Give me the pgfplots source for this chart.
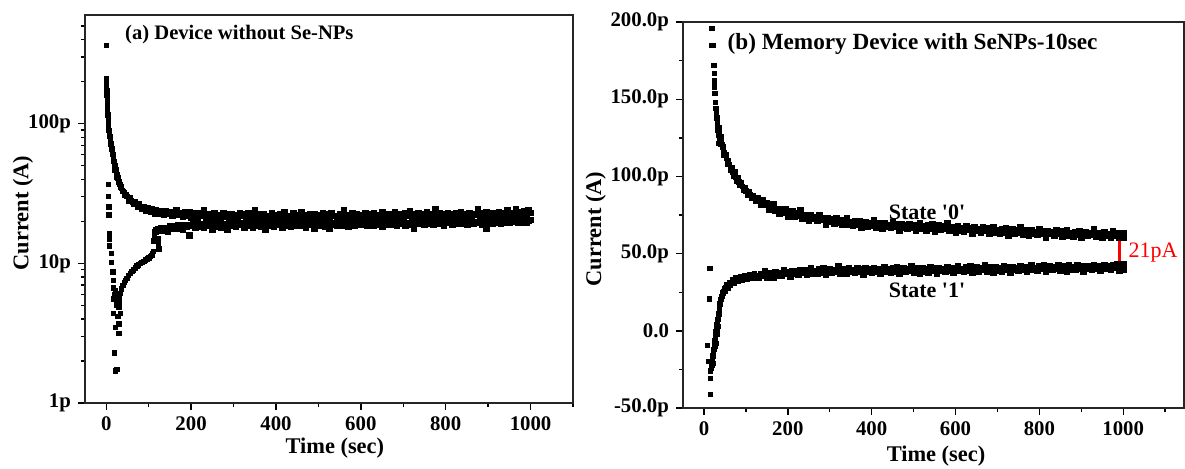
\documentclass[border=0pt]{standalone}
\usepackage{pgfplots}
\usepackage{pgfplotstable}
\pgfplotsset{compat=1.18}
\usepackage{fontspec}
\setmainfont{Liberation Serif}
\newfontfamily\rawserif{Liberation Serif}[Ligatures=TeXOff]

\pgfplotstableread{
t hi lo
130 23.6 17.2
135 22.5 18.0
140 23.9 17.6
145 22.8 17.0
150 23.4 18.4
155 22.0 17.9
160 23.0 18.6
165 24.1 17.7
170 22.3 18.8
175 22.9 18.2
180 21.8 17.5
185 23.3 18.9
190 22.2 18.3
195 23.5 15.9
200 21.2 18.7
205 22.5 19.1
210 23.0 18.0
215 21.7 19.3
220 22.8 18.5
225 22.0 19.0
230 24.2 18.2
235 21.4 19.4
240 22.1 18.6
245 22.7 19.8
250 21.0 17.6
255 22.9 19.0
260 21.6 18.4
265 22.2 19.5
270 21.3 18.1
275 23.1 19.2
280 21.8 18.8
285 22.4 17.4
290 20.9 19.6
295 22.6 18.7
300 21.5 19.1
305 22.3 18.3
310 21.1 19.7
315 23.0 18.9
320 21.9 19.3
325 22.5 18.0
330 21.2 19.4
335 22.8 18.6
340 21.6 19.9
345 22.1 18.2
350 24.0 19.0
355 21.3 18.7
360 22.4 19.5
365 21.0 18.4
370 22.7 19.2
375 21.5 17.6
380 22.0 19.6
385 21.4 18.8
390 22.9 19.3
395 21.7 18.5
400 22.2 19.8
405 21.1 18.9
410 22.6 19.2
415 21.8 18.1
420 23.2 19.5
425 21.4 18.7
430 22.0 19.4
435 21.6 18.3
440 22.8 19.7
445 21.2 19.0
450 22.3 18.6
455 21.9 19.9
460 23.5 18.8
465 21.3 19.3
470 22.1 18.2
475 21.7 19.6
480 22.5 18.9
485 21.0 19.4
490 22.7 17.8
495 21.5 19.2
500 22.2 18.7
505 21.8 19.8
510 22.9 19.1
515 21.4 18.5
520 22.4 19.6
525 21.6 17.7
530 23.1 19.3
535 21.9 18.9
540 22.0 19.5
545 21.3 18.6
550 22.6 19.9
555 21.7 19.2
560 24.1 18.8
565 21.5 19.6
570 22.3 18.4
575 21.8 19.7
580 22.8 19.1
585 21.2 18.7
590 22.5 20.0
595 21.9 19.3
600 22.2 18.9
605 21.6 19.8
610 23.0 19.2
615 21.4 18.6
620 22.6 19.9
625 22.0 19.4
630 22.9 18.8
635 21.5 20.1
640 22.3 19.0
645 21.8 19.6
650 23.4 18.5
655 21.7 19.9
660 22.4 19.3
665 21.3 18.9
670 22.7 20.2
675 22.1 19.1
680 23.2 19.7
685 21.6 18.6
690 22.5 19.8
695 22.0 19.4
700 21.4 20.0
705 22.8 18.8
710 22.2 19.6
715 23.6 19.1
720 21.7 19.9
725 22.4 17.9
730 21.9 19.5
735 22.9 20.1
740 21.5 19.2
745 22.6 19.8
750 22.1 18.9
755 23.3 20.0
760 21.8 19.4
765 22.5 19.9
770 21.6 19.0
775 24.3 19.7
780 22.2 20.2
785 22.8 19.3
790 21.7 19.8
795 22.4 18.8
800 22.0 20.1
805 23.1 19.5
810 21.9 19.9
815 22.6 19.1
820 21.6 20.3
825 22.9 19.6
830 22.2 19.2
835 23.4 20.0
840 21.8 19.4
845 22.5 20.2
850 22.0 19.0
855 23.0 19.8
860 21.7 20.4
865 22.7 19.3
870 22.3 19.9
875 24.5 19.5
880 22.1 20.2
885 22.8 19.1
890 21.9 20.0
895 23.2 17.9
900 22.4 19.7
905 22.0 20.3
910 23.0 19.4
915 22.5 20.1
920 21.8 19.6
925 23.3 20.4
930 22.2 19.3
935 22.9 20.0
940 22.4 19.8
945 24.0 20.5
950 22.6 19.5
955 23.1 20.2
960 22.3 19.9
965 24.4 20.6
970 22.7 19.6
975 23.4 20.3
980 22.5 19.8
985 23.6 20.5
990 22.8 19.7
995 24.2 20.2
1000 23.0 20.6
}\leftdata

\pgfplotstableread{
t hi lo
130 84.8 34.4
135 81.9 36.6
140 84.5 35.6
145 81.6 38.9
150 82.5 34.8
155 78.7 36.4
160 80.2 37.6
165 82.1 34.7
170 78.0 38.4
175 79.1 36.2
180 76.2 37.6
185 79.0 35.9
190 76.6 39.3
195 78.9 37.0
200 74.1 38.4
205 76.6 35.1
210 77.5 39.0
215 74.4 37.2
220 76.4 38.5
225 74.9 36.6
230 78.0 39.5
235 72.9 37.6
240 74.3 39.2
245 75.2 36.3
250 71.6 38.4
255 75.3 40.6
260 72.5 37.4
265 73.7 38.9
270 71.4 36.9
275 74.8 39.8
280 72.0 38.1
285 73.2 40.4
290 69.1 36.5
295 73.1 39.1
300 70.9 40.2
305 72.1 37.7
310 69.8 39.7
315 72.8 38.6
320 70.5 41.8
325 71.9 37.5
330 68.6 38.9
335 70.6 40.0
340 72.9 36.9
345 69.1 40.6
350 70.5 38.3
355 68.0 39.5
360 71.0 37.7
365 68.9 41.0
370 71.3 38.6
375 66.8 40.0
380 69.4 36.6
385 70.5 40.4
390 67.7 38.6
395 69.8 39.8
400 68.5 37.8
405 71.8 40.8
410 67.0 38.8
415 68.5 40.3
420 69.6 37.4
425 66.1 39.4
430 70.1 41.5
435 67.4 38.3
440 68.7 39.8
445 66.7 37.7
450 70.2 40.6
455 67.5 38.8
460 68.9 41.1
465 65.0 37.1
470 69.1 39.7
475 67.0 40.7
480 68.4 38.2
485 66.1 40.2
490 69.2 39.1
495 66.9 42.2
500 68.4 37.9
505 65.2 39.3
510 67.4 40.4
515 69.7 37.4
520 66.1 41.0
525 67.7 38.7
530 65.2 39.9
535 68.4 38.1
540 66.4 41.5
545 68.9 39.1
550 64.5 40.4
555 67.2 37.1
560 68.3 40.9
565 65.5 39.1
570 67.6 40.3
575 66.3 38.3
580 69.7 41.3
585 64.8 39.3
590 66.3 40.8
595 67.4 37.9
600 64.0 39.9
605 67.9 42.1
610 65.2 38.9
615 66.6 40.3
620 64.5 38.2
625 68.0 41.1
630 65.4 39.3
635 66.7 41.7
640 62.8 37.7
645 67.0 40.3
650 64.9 41.3
655 66.2 38.8
660 64.0 40.8
665 67.1 39.7
670 64.8 42.9
675 66.4 38.6
680 63.1 40.0
685 65.2 41.1
690 67.5 38.0
695 63.9 41.6
700 65.4 39.3
705 62.9 40.5
710 66.1 38.8
715 64.0 42.1
720 66.5 39.7
725 62.1 41.1
730 64.8 37.7
735 65.9 41.5
740 63.0 39.7
745 65.2 41.0
750 63.9 39.0
755 67.2 41.9
760 62.4 39.9
765 63.9 41.5
770 65.0 38.6
775 61.6 40.6
780 65.5 42.7
785 62.9 39.6
790 64.2 41.0
795 62.2 38.9
800 65.8 41.8
805 63.1 40.1
810 64.5 42.4
815 60.7 38.4
820 64.8 41.0
825 62.8 42.1
830 64.1 39.6
835 61.9 41.6
840 65.0 40.5
845 62.8 42.9
850 64.4 39.4
855 61.1 40.6
860 63.3 41.7
865 65.6 38.7
870 62.0 42.3
875 63.6 40.0
880 61.1 41.2
885 64.3 39.5
890 62.3 42.8
895 64.8 40.4
900 60.4 41.7
905 63.2 38.3
910 64.3 42.2
915 61.5 40.4
920 63.6 41.7
925 62.4 39.7
930 65.8 42.6
935 60.9 40.7
940 62.5 42.2
945 63.6 39.3
950 60.2 41.4
955 64.2 42.9
960 61.5 40.3
965 62.9 41.7
970 60.8 39.6
975 64.4 42.5
980 61.7 40.8
985 63.1 43.1
990 60.2 39.1
995 63.4 41.7
1000 61.4 42.7
1000 63.6 40.0
1000 60.3 43.0
}\rightdata

\pgfplotsset{
  mystyle/.style={
    scale only axis,
    axis line style={line width=0.9pt, black!85},
    tick align=outside,
    tick pos=left,
    major tick length=3.5pt,
    minor tick length=2pt,
    every tick/.style={black, line width=0.7pt},
    tick label style={font=\fontsize{10.4}{12}\selectfont\bfseries},
    label style={font=\fontsize{11.2}{13}\selectfont\bfseries},
    xtick={0,200,400,600,800,1000},
    xticklabels={0,200,400,600,800,1000},
    minor xtick={100,300,500,700,900,1100},
    clip=false,
  },
  pts/.style={only marks, mark=square*, mark size=1.1pt, color=black, mark options={line width=0.2pt}},
  band/.style={only marks, mark=square*, mark size=1.4pt, color=black, mark options={line width=0.2pt}},
}

\begin{document}
\begin{tikzpicture}
\path[use as bounding box] (0pt,0pt) rectangle (592.5pt,-234pt);

% ---------------- (a) ----------------
\begin{axis}[mystyle,
  at={(42.5pt,-201.5pt)}, anchor=south west,
  width=244pt, height=194pt,
  ymode=log, xmin=-50, xmax=1100, ymin=1, ymax=600,
  ytick={1,10,100}, yticklabels={1p,10p,100p},
  minor ytick={2,3,4,5,6,7,8,9,20,30,40,50,60,70,80,90,200,300,400,500},
  xlabel={Time (sec)}, ylabel={Current (A)},
  xlabel style={at={(axis description cs:0.512,0)}, anchor=center, yshift=-22.5pt},
  ylabel style={at={(axis description cs:-0.127,0.49)}, anchor=center},
]
% state 0, early decay
\addplot[pts] coordinates {
(0,365) (0,210) (0.5,200) (0.5,188) (1,172) (1.5,160) (2,150) (2,140) (2.5,132) (3,124)
(3.5,116) (4,108) (4.5,101) (5,95) (6,90) (7,85) (8,81) (9,78) (10,75) (11,72) (12,69)
(13,66) (14,63) (15,60.5) (16,58) (17,56) (18,54) (19,52) (20,50) (21,48.5) (22,47)
(23,45.5) (24,44) (25,43) (26,42) (27,41) (28,40) (30,38.5) (32,37) (34,35.5) (36,34.5)
(38,33.5) (40,32.8) (43,32) (46,31) (49,30.2) (52,29.5) (55,29) (58,28.3) (62,27.7)
(66,27.2) (70,26.6) (75,26) (80,25.5) (85,25.1) (90,24.7) (95,24.4) (100,24.1) (105,23.8)
(110,23.6) (115,23.4) (120,23.2) (125,23.0)
(20,46.5) (24,41.5) (28,38) (33,35.8) (37,33) (42,31) (47,30.5) (53,28) (57,29.8)
(63,26.5) (68,28) (73,25.5) (78,26.8) (83,24.4) (88,25.7) (93,23.8) (98,25.2) (103,23.2)
(108,24.6) (113,22.6) (118,24.2) (123,22.4) (128,24)
};
% state 1, early transient and rise
\addplot[pts] coordinates {
(4,36.7) (4,30.3) (5.4,25.5) (5.4,22.3) (7,16.4) (7,15) (7,13.4) (12,11.8) (12,10.2)
(15,8.7) (17,7.6) (17,6.7) (21,6.4) (25,5.9) (17,5.6) (29,5.4) (29,4.9) (17,4.4) (33,4.4)
(29,3.7) (21,3.5) (29,3.15) (19.5,2.29) (25,1.74) (21,1.70) (23,5) (27,4.2) (19,6) (24,5.5)
(30,5.7) (33,6.1) (36,6.6) (39,7.0) (42,7.3) (45,7.6) (48,7.8) (52,8.2) (56,8.5) (60,8.8)
(64,9.0) (68,9.3) (72,9.6) (76,9.8) (80,10.0) (84,10.2) (88,10.4) (92,10.6) (96,10.8)
(100,11.0) (104,11.2) (107,11.4) (109,11.7) (111,12.2)
(112,14.5) (113,16) (114,17) (116,17.5) (118,16.8) (120,17.8) (122,15) (123,14)
(124,12.7) (126,17.2) (128,18)
};
\addplot[band] table[x=t, y=hi] {\leftdata};
\addplot[band] table[x=t, y=lo] {\leftdata};
\node[anchor=west, font=\fontsize{10.3}{12}\selectfont\bfseries] at (rel axis cs:0.068,0.95) {(a) Device without Se-NPs};
\end{axis}

% ---------------- (b) ----------------
\begin{axis}[mystyle,
  at={(341.5pt,-204pt)}, anchor=south west,
  width=250.5pt, height=193pt,
  xmin=-50, xmax=1145, ymin=-50, ymax=200,
  ytick={-50,0,50,100,150,200},
  yticklabels={-50.0p,0.0,50.0p,100.0p,150.0p,200.0p},
  minor ytick={-25,25,75,125,175},
  xlabel={Time (sec)}, ylabel={Current (A)},
  xlabel style={at={(axis description cs:0.505,0)}, anchor=center, yshift=-24pt},
  ylabel style={at={(axis description cs:-0.174,0.464)}, anchor=center},
]
% state 0 early
\addplot[pts] coordinates {
(18,196) (17,185) (21,185) (23,172) (24,167) (24.5,162) (25,158) (25.5,154) (27,148)
(28,144) (29,141) (30,138) (31,135) (32,133) (33,130) (34,127) (34,121.5) (35,132)
(36,129) (37,127) (38,125) (40,123) (42,121) (44,119) (46,117) (48,115.5) (50,114)
(53,112) (56,110) (59,108) (62,106) (65,104.5) (68,103) (71,101.5) (75,99.5) (79,98)
(83,96.5) (87,95) (91,93.5) (95,92) (100,90.7) (105,89.5) (110,88.3) (115,87.3)
(120,86.3) (125,85.2)
(39,121) (41,126) (45,119.5) (47,114) (52,114) (55,108) (58,110.5) (63,104) (66,106)
(70,100) (73,103) (77,97) (81,99.5) (85,94.5) (89,96) (93,91) (98,93) (103,88)
(108,90.5) (113,86) (118,88) (123,84) (128,86.5)
};
% state 1 early
\addplot[pts] coordinates {
(13.5,40.5) (12,20.7) (8,-9.5) (9.5,-19.8) (15,-25.9) (15,-30.6) (15,-41)
(17,-24) (18,-22) (19,-20.5) (20,-18.8) (21,-16) (22,-14) (23,-12) (24,-10) (25,-8)
(26,-6) (27,-3.7) (28,-0.5) (29,2.8) (30,4) (31,5.2) (32,6.5) (33,7.5) (34,9) (35,11)
(36,13.5) (37,15.7) (38,17.5) (39,19) (40,20.5) (41,22) (43,23.5) (45,24.8) (47,25.8)
(49,26.8) (52,28) (55,29) (58,29.8) (61,30.6) (65,31.4) (69,32) (73,32.6) (78,33.2)
(83,33.7) (88,34) (93,34.4) (99,34.8) (105,35) (111,35.3) (117,35.5) (123,35.7)
(22,-21) (25,-12) (28,-8) (30,-2) (32,0) (33,3) (26,-10)
(44,22.5) (48,27.5) (51,26) (54,30.2) (57,28) (60,31.5) (63,29.5) (67,33) (71,31)
(76,34.5) (80,32) (86,35.3) (90,33) (96,36) (102,33.8) (108,36.3) (114,34.2) (120,37)
(126,34.5)
};
\addplot[band] table[x=t, y=hi] {\rightdata};
\addplot[band] table[x=t, y=lo] {\rightdata};
\draw[red, line width=1.5pt] (axis cs:990,60) -- (axis cs:990,42.5);
\node[anchor=west, red, font=\fontsize{11}{13}\selectfont] at (axis cs:996,51) {21pA};
\node[anchor=west, font=\fontsize{11}{13}\selectfont\rawserif\bfseries] at (axis cs:424,77) {State '0'};
\node[anchor=west, font=\fontsize{11}{13}\selectfont\rawserif\bfseries] at (axis cs:424,26.5) {State '1'};
\node[anchor=west, font=\fontsize{11.6}{13}\selectfont\bfseries] at (rel axis cs:0.075,0.943) {(b) Memory Device with SeNPs-10sec};
\end{axis}
\end{tikzpicture}
\end{document}
